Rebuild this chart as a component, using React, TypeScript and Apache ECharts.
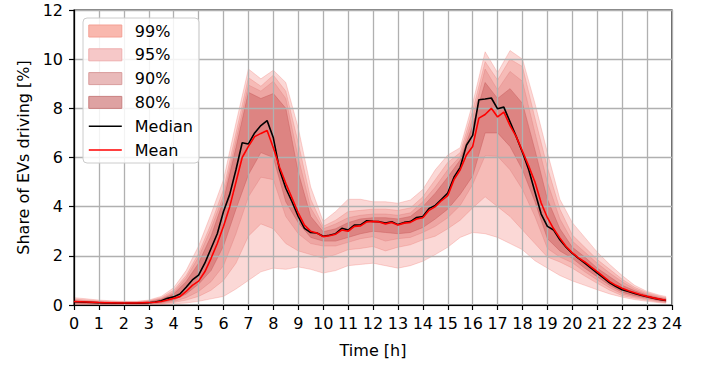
import React, { useEffect, useRef } from 'react';
import * as echarts from 'echarts';

// x grids (hours)
const quarterHours: number[] = Array.from({ length: 96 }, (_, i) => i * 0.25);
const bandHours: number[] = [...Array.from({ length: 48 }, (_, i) => i * 0.5), 23.75];
const xTickLabels: string[] = Array.from({ length: 25 }, (_, i) => String(i));

// Median / mean share of EVs driving [%], 15-min resolution
const medianShare: number[] = [
  0.13, 0.12, 0.11, 0.1, 0.09, 0.08, 0.08, 0.07, 0.07, 0.07, 0.07, 0.08,
  0.09, 0.12, 0.17, 0.27, 0.33, 0.45, 0.72, 1.02, 1.22, 1.7, 2.3, 2.9,
  3.8, 4.5, 5.5, 6.6, 6.55, 7.0, 7.3, 7.5, 6.8, 5.5, 4.75, 4.2,
  3.6, 3.12, 2.95, 2.93, 2.8, 2.84, 2.9, 3.12, 3.05, 3.25, 3.26, 3.43,
  3.4, 3.39, 3.33, 3.39, 3.27, 3.36, 3.39, 3.56, 3.6, 3.93, 4.05, 4.3,
  4.55, 5.2, 5.6, 6.5, 6.9, 8.35, 8.38, 8.42, 7.98, 8.05, 7.45, 6.85,
  6.2, 5.5, 4.6, 3.7, 3.2, 3.05, 2.65, 2.35, 2.1, 1.9, 1.7, 1.5,
  1.3, 1.1, 0.9, 0.75, 0.62, 0.55, 0.47, 0.4, 0.34, 0.28, 0.23, 0.18,
];
const meanShare: number[] = [
  0.14, 0.13, 0.12, 0.11, 0.1, 0.09, 0.09, 0.08, 0.08, 0.08, 0.08, 0.09,
  0.1, 0.11, 0.14, 0.2, 0.27, 0.34, 0.55, 0.8, 0.97, 1.35, 1.9, 2.5,
  3.2, 4.0, 5.0, 6.0, 6.45, 6.85, 6.98, 7.1, 6.4, 5.6, 4.95, 4.35,
  3.75, 3.25, 3.0, 2.93, 2.78, 2.82, 2.88, 3.05, 3.0, 3.2, 3.22, 3.38,
  3.4, 3.38, 3.3, 3.36, 3.25, 3.33, 3.36, 3.5, 3.55, 3.85, 4.0, 4.25,
  4.45, 5.1, 5.5, 6.1, 6.45, 7.6, 7.75, 8.0, 7.65, 7.85, 7.3, 6.85,
  6.25, 5.65, 5.0, 4.15, 3.55, 3.1, 2.72, 2.38, 2.12, 1.92, 1.75, 1.55,
  1.36, 1.15, 0.95, 0.8, 0.68, 0.58, 0.5, 0.42, 0.35, 0.29, 0.24, 0.19,
];

// Percentile band edges, 30-min resolution (+ 23:45)
const p99High: number[] = [
  0.3, 0.25, 0.2, 0.17, 0.15, 0.15, 0.2, 0.35, 0.7, 1.4, 2.4, 3.7,
  5.1, 7.4, 9.6, 9.2, 9.55, 9.05, 7.2, 4.8, 3.4, 3.8, 4.3, 4.3,
  4.2, 4.2, 4.14, 4.27, 4.7, 5.5, 6.1, 6.4, 8.2, 10.3, 9.45, 10.35,
  10.0, 8.2, 6.2, 4.3, 3.35, 2.75, 2.15, 1.65, 1.2, 0.8, 0.55, 0.4, 0.35,
];
const p95High: number[] = [
  0.24, 0.2, 0.16, 0.14, 0.13, 0.13, 0.17, 0.3, 0.6, 1.2, 2.1, 3.3,
  4.7, 7.0, 9.25, 8.9, 9.35, 8.7, 6.6, 4.3, 3.2, 3.45, 3.8, 3.85,
  3.9, 3.9, 3.85, 3.95, 4.4, 5.1, 5.8, 6.2, 7.9, 9.9, 9.15, 10.0,
  9.7, 7.6, 5.6, 3.9, 2.85, 2.35, 1.85, 1.45, 1.05, 0.72, 0.5, 0.36, 0.3,
];
const p90High: number[] = [
  0.2, 0.17, 0.14, 0.12, 0.11, 0.11, 0.15, 0.26, 0.52, 1.1, 1.95, 3.1,
  4.45, 6.7, 8.95, 8.7, 9.1, 8.4, 6.0, 3.95, 3.1, 3.3, 3.55, 3.65,
  3.7, 3.7, 3.65, 3.75, 4.2, 4.8, 5.5, 6.05, 7.6, 9.6, 8.75, 9.5,
  9.1, 7.0, 5.0, 3.5, 2.6, 2.15, 1.7, 1.3, 0.95, 0.65, 0.45, 0.32, 0.27,
];
const p80High: number[] = [
  0.17, 0.14, 0.12, 0.1, 0.1, 0.1, 0.13, 0.23, 0.45, 0.95, 1.7, 2.8,
  4.25, 6.4, 8.65, 8.4, 8.6, 8.0, 5.4, 3.6, 2.98, 3.1, 3.35, 3.5,
  3.55, 3.55, 3.5, 3.6, 4.0, 4.55, 5.2, 5.9, 7.3, 9.05, 8.4, 8.8,
  8.2, 6.3, 4.3, 3.1, 2.35, 1.95, 1.5, 1.15, 0.8, 0.58, 0.4, 0.28, 0.24,
];
const p80Low: number[] = [
  0.08, 0.06, 0.05, 0.05, 0.05, 0.05, 0.06, 0.1, 0.2, 0.45, 0.85, 1.4,
  2.4, 3.9, 5.3, 6.2, 6.0, 4.2, 3.35, 2.75, 2.6, 2.6, 2.75, 2.9,
  3.0, 2.95, 2.9, 2.95, 3.15, 3.5, 3.9, 4.5, 5.25, 7.0, 7.0, 6.45,
  5.5, 4.2, 2.7, 2.2, 1.9, 1.5, 1.15, 0.8, 0.52, 0.38, 0.28, 0.18, 0.15,
];
const p90Low: number[] = [
  0.06, 0.05, 0.04, 0.04, 0.04, 0.04, 0.05, 0.07, 0.14, 0.3, 0.55, 0.95,
  1.6, 2.9, 4.4, 5.2, 5.1, 3.6, 2.9, 2.5, 2.4, 2.4, 2.55, 2.7,
  2.78, 2.6, 2.7, 2.75, 2.95, 3.2, 3.55, 4.05, 4.9, 6.07, 6.05, 5.5,
  4.7, 3.6, 2.3, 1.95, 1.72, 1.35, 1.02, 0.7, 0.45, 0.33, 0.24, 0.15, 0.12,
];
const p95Low: number[] = [
  0.04, 0.04, 0.03, 0.03, 0.03, 0.03, 0.03, 0.05, 0.1, 0.2, 0.35, 0.6,
  1.0, 1.7, 2.8, 3.3, 3.1, 2.5, 2.2, 2.05, 1.9, 2.05, 2.25, 2.3,
  2.38, 2.2, 2.35, 2.45, 2.65, 2.8, 3.1, 3.45, 3.95, 4.4, 4.0, 3.6,
  3.05, 2.5, 1.95, 1.75, 1.5, 1.18, 0.88, 0.6, 0.38, 0.28, 0.2, 0.12, 0.1,
];
const p99Low: number[] = [
  0.02, 0.02, 0.02, 0.02, 0.02, 0.02, 0.02, 0.03, 0.05, 0.08, 0.15, 0.25,
  0.35, 0.65, 1.0, 1.35, 1.5, 1.45, 1.55, 1.45, 1.3, 1.4, 1.6, 1.65,
  1.7, 1.6, 1.5, 1.6, 1.78, 2.05, 2.35, 2.75, 2.95, 2.9, 2.75, 2.5,
  2.25, 1.8, 1.5, 1.2, 0.98, 0.8, 0.62, 0.45, 0.32, 0.22, 0.15, 0.09, 0.07,
];

const bandNames = ['99%', '95%', '90%', '80%'];
const bandLows = [p99Low, p95Low, p90Low, p80Low];
const bandHighs = [p99High, p95High, p90High, p80High];
const bandFills = [
  'rgba(240,100,90,0.25)',
  'rgba(235,110,105,0.28)',
  'rgba(220,110,110,0.28)',
  'rgba(200,90,90,0.45)',
];
const legendFills = ['#f9b8ae', '#f6c8c8', '#e9baba', '#dea2a2'];
const legendBorders = ['#f4a094', '#eeaeae', '#d99c9c', '#c98080'];

const FONT = 'DejaVu Sans';

export default function App() {
  const ref = useRef<HTMLDivElement>(null);

  useEffect(() => {
    if (!ref.current) return;
    const chart = echarts.init(ref.current, undefined, { renderer: 'svg' });

    const bandSeries = bandNames.map((name, b) => ({
      name,
      type: 'custom',
      z: 2,
      silent: true,
      itemStyle: { color: legendFills[b] },
      data: [[0, 0]],
      renderItem: (_params: any, api: any) => {
        const lo = bandLows[b];
        const hi = bandHighs[b];
        const pts: number[][] = [];
        for (let i = 0; i < bandHours.length; i++) pts.push(api.coord([bandHours[i], hi[i]]));
        for (let i = bandHours.length - 1; i >= 0; i--) pts.push(api.coord([bandHours[i], lo[i]]));
        return {
          type: 'polygon',
          shape: { points: pts },
          style: { fill: bandFills[b], stroke: bandFills[b], lineWidth: 1 },
        };
      },
    }));

    const option: any = {
      animation: false,
      backgroundColor: '#fff',
      grid: {
        left: 74,
        right: 41,
        top: 10,
        bottom: 64,
        show: true,
        borderColor: '#000',
        borderWidth: 1.2,
      },
      legend: {
        orient: 'vertical',
        left: 83,
        top: 18,
        itemWidth: 33,
        itemHeight: 12,
        itemGap: 7.8,
        padding: [5, 6, 5, 5],
        backgroundColor: 'rgba(255,255,255,0.85)',
        borderColor: '#cccccc',
        borderWidth: 1,
        borderRadius: 4,
        textStyle: { fontFamily: FONT, fontSize: 16, color: '#000', padding: [0, 0, 0, 8] },
        data: [
          ...bandNames.map((n, b) => ({
            name: n,
            icon: 'rect',
            itemStyle: { color: legendFills[b], borderColor: legendBorders[b], borderWidth: 1 },
          })),
          { name: 'Median', itemStyle: { opacity: 0 }, lineStyle: { color: '#000000', width: 1.6 } },
          { name: 'Mean', itemStyle: { opacity: 0 }, lineStyle: { color: '#ff0000', width: 1.6 } },
        ],
      },
      xAxis: {
        type: 'value',
        min: 0,
        max: 24,
        interval: 1,
        z: 3,
        name: 'Time [h]',
        nameLocation: 'middle',
        nameGap: 37,
        nameTextStyle: { fontFamily: FONT, fontSize: 16, color: '#000' },
        axisLine: { show: true, lineStyle: { color: '#000', width: 1.2 } },
        axisTick: { show: true, length: 5, lineStyle: { color: '#000', width: 1.2 } },
        axisLabel: {
          fontFamily: FONT,
          fontSize: 16,
          color: '#000',
          margin: 10,
          formatter: (v: number) => xTickLabels[Math.round(v)] ?? '',
        },
        splitLine: { show: true, lineStyle: { color: '#b0b0b0', width: 1.3 } },
      },
      yAxis: {
        type: 'value',
        min: 0,
        max: 12,
        interval: 2,
        z: 3,
        name: 'Share of EVs driving [%]',
        nameLocation: 'middle',
        nameGap: 43,
        nameTextStyle: { fontFamily: FONT, fontSize: 16, color: '#000' },
        axisLine: { show: true, lineStyle: { color: '#000', width: 1.2 } },
        axisTick: { show: true, length: 5, lineStyle: { color: '#000', width: 1.2 } },
        axisLabel: { fontFamily: FONT, fontSize: 16, color: '#000', margin: 11 },
        splitLine: { show: true, lineStyle: { color: '#b0b0b0', width: 1.3 } },
      },
      series: [
        ...bandSeries,
        {
          name: 'Median',
          type: 'line',
          z: 5,
          symbol: 'none',
          showSymbol: false,
          silent: true,
          itemStyle: { color: '#000000' },
          lineStyle: { color: '#000000', width: 1.6 },
          data: quarterHours.map((h, i) => [h, medianShare[i]]),
        },
        {
          name: 'Mean',
          type: 'line',
          z: 6,
          symbol: 'none',
          showSymbol: false,
          silent: true,
          itemStyle: { color: '#ff0000' },
          lineStyle: { color: '#ff0000', width: 1.6 },
          data: quarterHours.map((h, i) => [h, meanShare[i]]),
        },
      ],
    };

    chart.setOption(option);
    return () => chart.dispose();
  }, []);

  return (
    <div
      ref={ref}
      style={{ position: 'absolute', left: 0, top: 0, width: 713, height: 369, background: '#fff' }}
    />
  );
}
